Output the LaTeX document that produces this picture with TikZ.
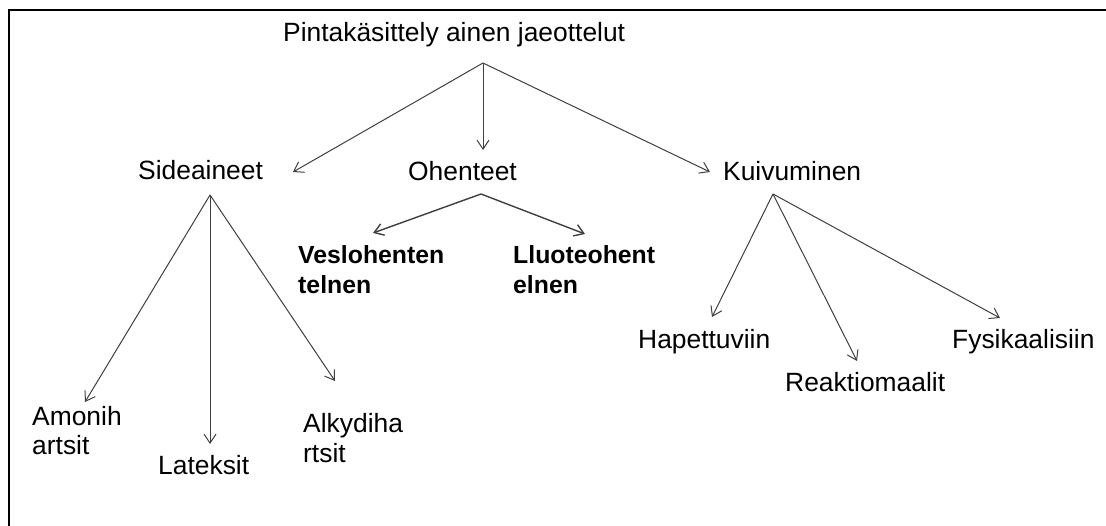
\documentclass[tikz,border=0pt]{standalone}
\usepackage{fontspec}
\setmainfont{Liberation Sans}
\usetikzlibrary{arrows.meta}
\newcommand{\twoline}[2]{\vtop{\baselineskip=29.5pt\hbox{#1}\hbox{#2}}}
\tikzset{
  lbl/.style={anchor=base west, inner sep=0pt, font=\fontsize{26.4pt}{29.5pt}\selectfont},
  blbl/.style={lbl, font=\fontsize{24.8pt}{29.5pt}\selectfont\bfseries},
  arr/.style={draw=black!75, line width=1pt, -{Straight Barb[length=9pt,width=12pt]}},
  frameline/.style={line width=2pt, black}
}
\begin{document}
\begin{tikzpicture}[x=1pt,y=-1pt]
\useasboundingbox[fill=white] (0,0) rectangle (1106,526);
\draw[frameline] (9.3,526) -- (9.3,10) -- (1106,10);

% nodes
\node[lbl] (title) at (283,42) {Pintakäsittely ainen jaeottelut};
\node[lbl] (side) at (138,180) {Sideaineet};
\node[lbl] (ohen) at (408,181) {Ohenteet};
\node[lbl] (kuiv) at (723,181) {Kuivuminen};
\node[blbl] (vesi) at (298,264) {\twoline{Veslohenten}{telnen}};
\node[blbl] (liuo) at (513,264) {\twoline{Lluoteohent}{elnen}};
\node[lbl] (amon) at (32,425) {\twoline{Amonih}{artsit}};
\node[lbl] (late) at (158,474) {Lateksit};
\node[lbl] (alky) at (303,433) {\twoline{Alkydiha}{rtsit}};
\node[lbl] (hape) at (638,349) {Hapettuviin};
\node[lbl] (reak) at (785,392) {Reaktiomaalit};
\node[lbl] (fysi) at (952,349) {Fysikaalisiin};

% connector end points
\coordinate (t-title) at (483,63);
\coordinate (h-side) at (293,172);
\coordinate (h-ohen) at (483,150);
\coordinate (h-kuiv) at (710,172);
\coordinate (t-ohen) at (481,194);
\coordinate (h-vesi) at (373,233);
\coordinate (h-liuo) at (585,234);
\coordinate (t-side) at (210,195);
\coordinate (h-amon) at (85,402);
\coordinate (h-late) at (210,444);
\coordinate (h-alky) at (335,381);
\coordinate (t-kuiv) at (773,194);
\coordinate (h-hape) at (712,317);
\coordinate (h-reak) at (857,361);
\coordinate (h-fysi) at (1000,318);

\draw[arr] (t-title) -- (h-side);
\draw[arr] (t-title) -- (h-ohen);
\draw[arr] (t-title) -- (h-kuiv);
\draw[arr, line width=1.4pt] (t-ohen) -- (h-vesi);
\draw[arr, line width=1.4pt] (t-ohen) -- (h-liuo);
\draw[arr] (t-side) -- (h-amon);
\draw[arr] (t-side) -- (h-late);
\draw[arr] (t-side) -- (h-alky);
\draw[arr] (t-kuiv) -- (h-hape);
\draw[arr] (t-kuiv) -- (h-reak);
\draw[arr] (t-kuiv) -- (h-fysi);
\end{tikzpicture}
\end{document}
